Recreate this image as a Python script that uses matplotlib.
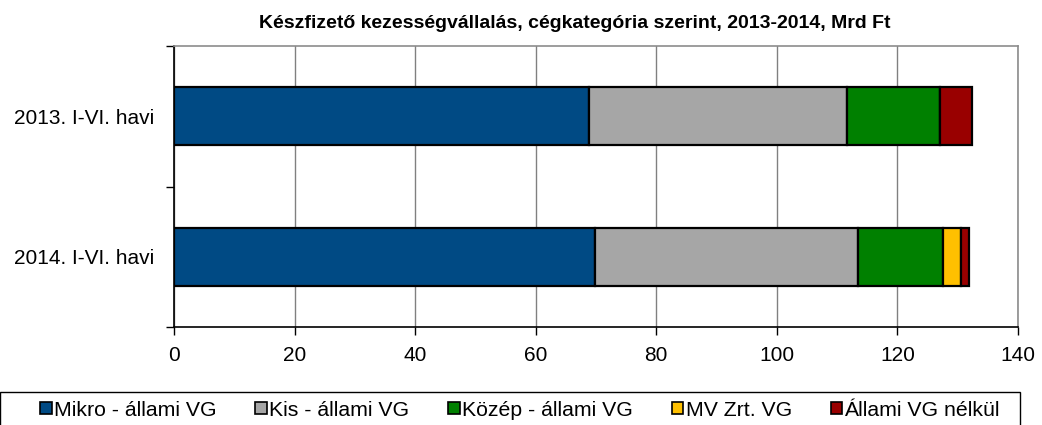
import matplotlib
matplotlib.use("Agg")
import matplotlib.pyplot as plt
from matplotlib.patches import Patch

plt.rcParams['font.family'] = ['Liberation Sans', 'DejaVu Sans']

categories = ["2014. I-VI. havi", "2013. I-VI. havi"]
series_names = ["Mikro - állami VG", "Kis - állami VG", "Közép - állami VG",
                "MV Zrt. VG", "Állami VG nélkül"]
mikro = [69.8, 68.9]
kis = [43.6, 42.8]
kozep = [14.2, 15.4]
mv = [2.9, 0.0]
nelkul = [1.4, 5.2]
colors = ["#004A84", "#A6A6A6", "#008000", "#FFC000", "#990000"]
xticks = [0, 20, 40, 60, 80, 100, 120, 140]
title = "Készfizető kezességvállalás, cégkategória szerint, 2013-2014, Mrd Ft"

fig = plt.figure(figsize=(10.42, 4.25), dpi=100)
ax = fig.add_axes([174/1042, 1-327/425, (1018-174)/1042, (327-46)/425])

ypos = list(range(len(categories)))
left = [0.0]*len(categories)
for vals, col, name in zip([mikro, kis, kozep, mv, nelkul], colors, series_names):
    ax.barh(ypos, vals, left=left, height=0.41, color=col, edgecolor="black",
            linewidth=1.6, label=name, zorder=3)
    left = [l + v for l, v in zip(left, vals)]

ax.set_xlim(0, 140)
ax.set_ylim(-0.5, len(categories)-0.5)
ax.set_xticks(xticks)
ax.set_xticklabels([str(t) for t in xticks], fontsize=15)
ax.set_yticks(ypos)
ax.set_yticklabels(categories, fontsize=15)
ax.tick_params(axis='y', which='major', length=0, pad=14)
ax.set_yticks([-0.5, 0.5, 1.5], minor=True)
ax.tick_params(axis='y', which='minor', length=6, width=1, direction='out')
ax.tick_params(axis='x', length=6, width=1, direction='out', pad=8)
ax.xaxis.grid(True, color="#808080", linewidth=1, zorder=0)
ax.set_axisbelow(True)
for s in ['top', 'right']:
    ax.spines[s].set_color("#8c8c8c")
    ax.spines[s].set_linewidth(1.2)
for s in ['left', 'bottom']:
    ax.spines[s].set_color("black")
    ax.spines[s].set_linewidth(1.2)

fig.text(0.5515, 1-28/425, title, ha='center', va='baseline', fontsize=14,
         fontweight='bold')

handles = [Patch(facecolor=c, edgecolor="black", linewidth=1.2) for c in colors]
leg = fig.legend(handles, series_names, loc='upper center',
                 bbox_to_anchor=(520/1042, 1-392/425),
                 ncol=5, fontsize=15.3, frameon=False,
                 handlelength=0.55, handleheight=0.55, handletextpad=0.1,
                 columnspacing=1.83, borderpad=0.4, borderaxespad=0)
# legend frame box spanning nearly full width, clipped at bottom
fig.patches.append(plt.Rectangle((0, -0.05), 1020/1042, 1-392/425+0.05,
                                 transform=fig.transFigure, fill=False,
                                 edgecolor="black", linewidth=1.0))

fig.savefig("out.png", dpi=100)
